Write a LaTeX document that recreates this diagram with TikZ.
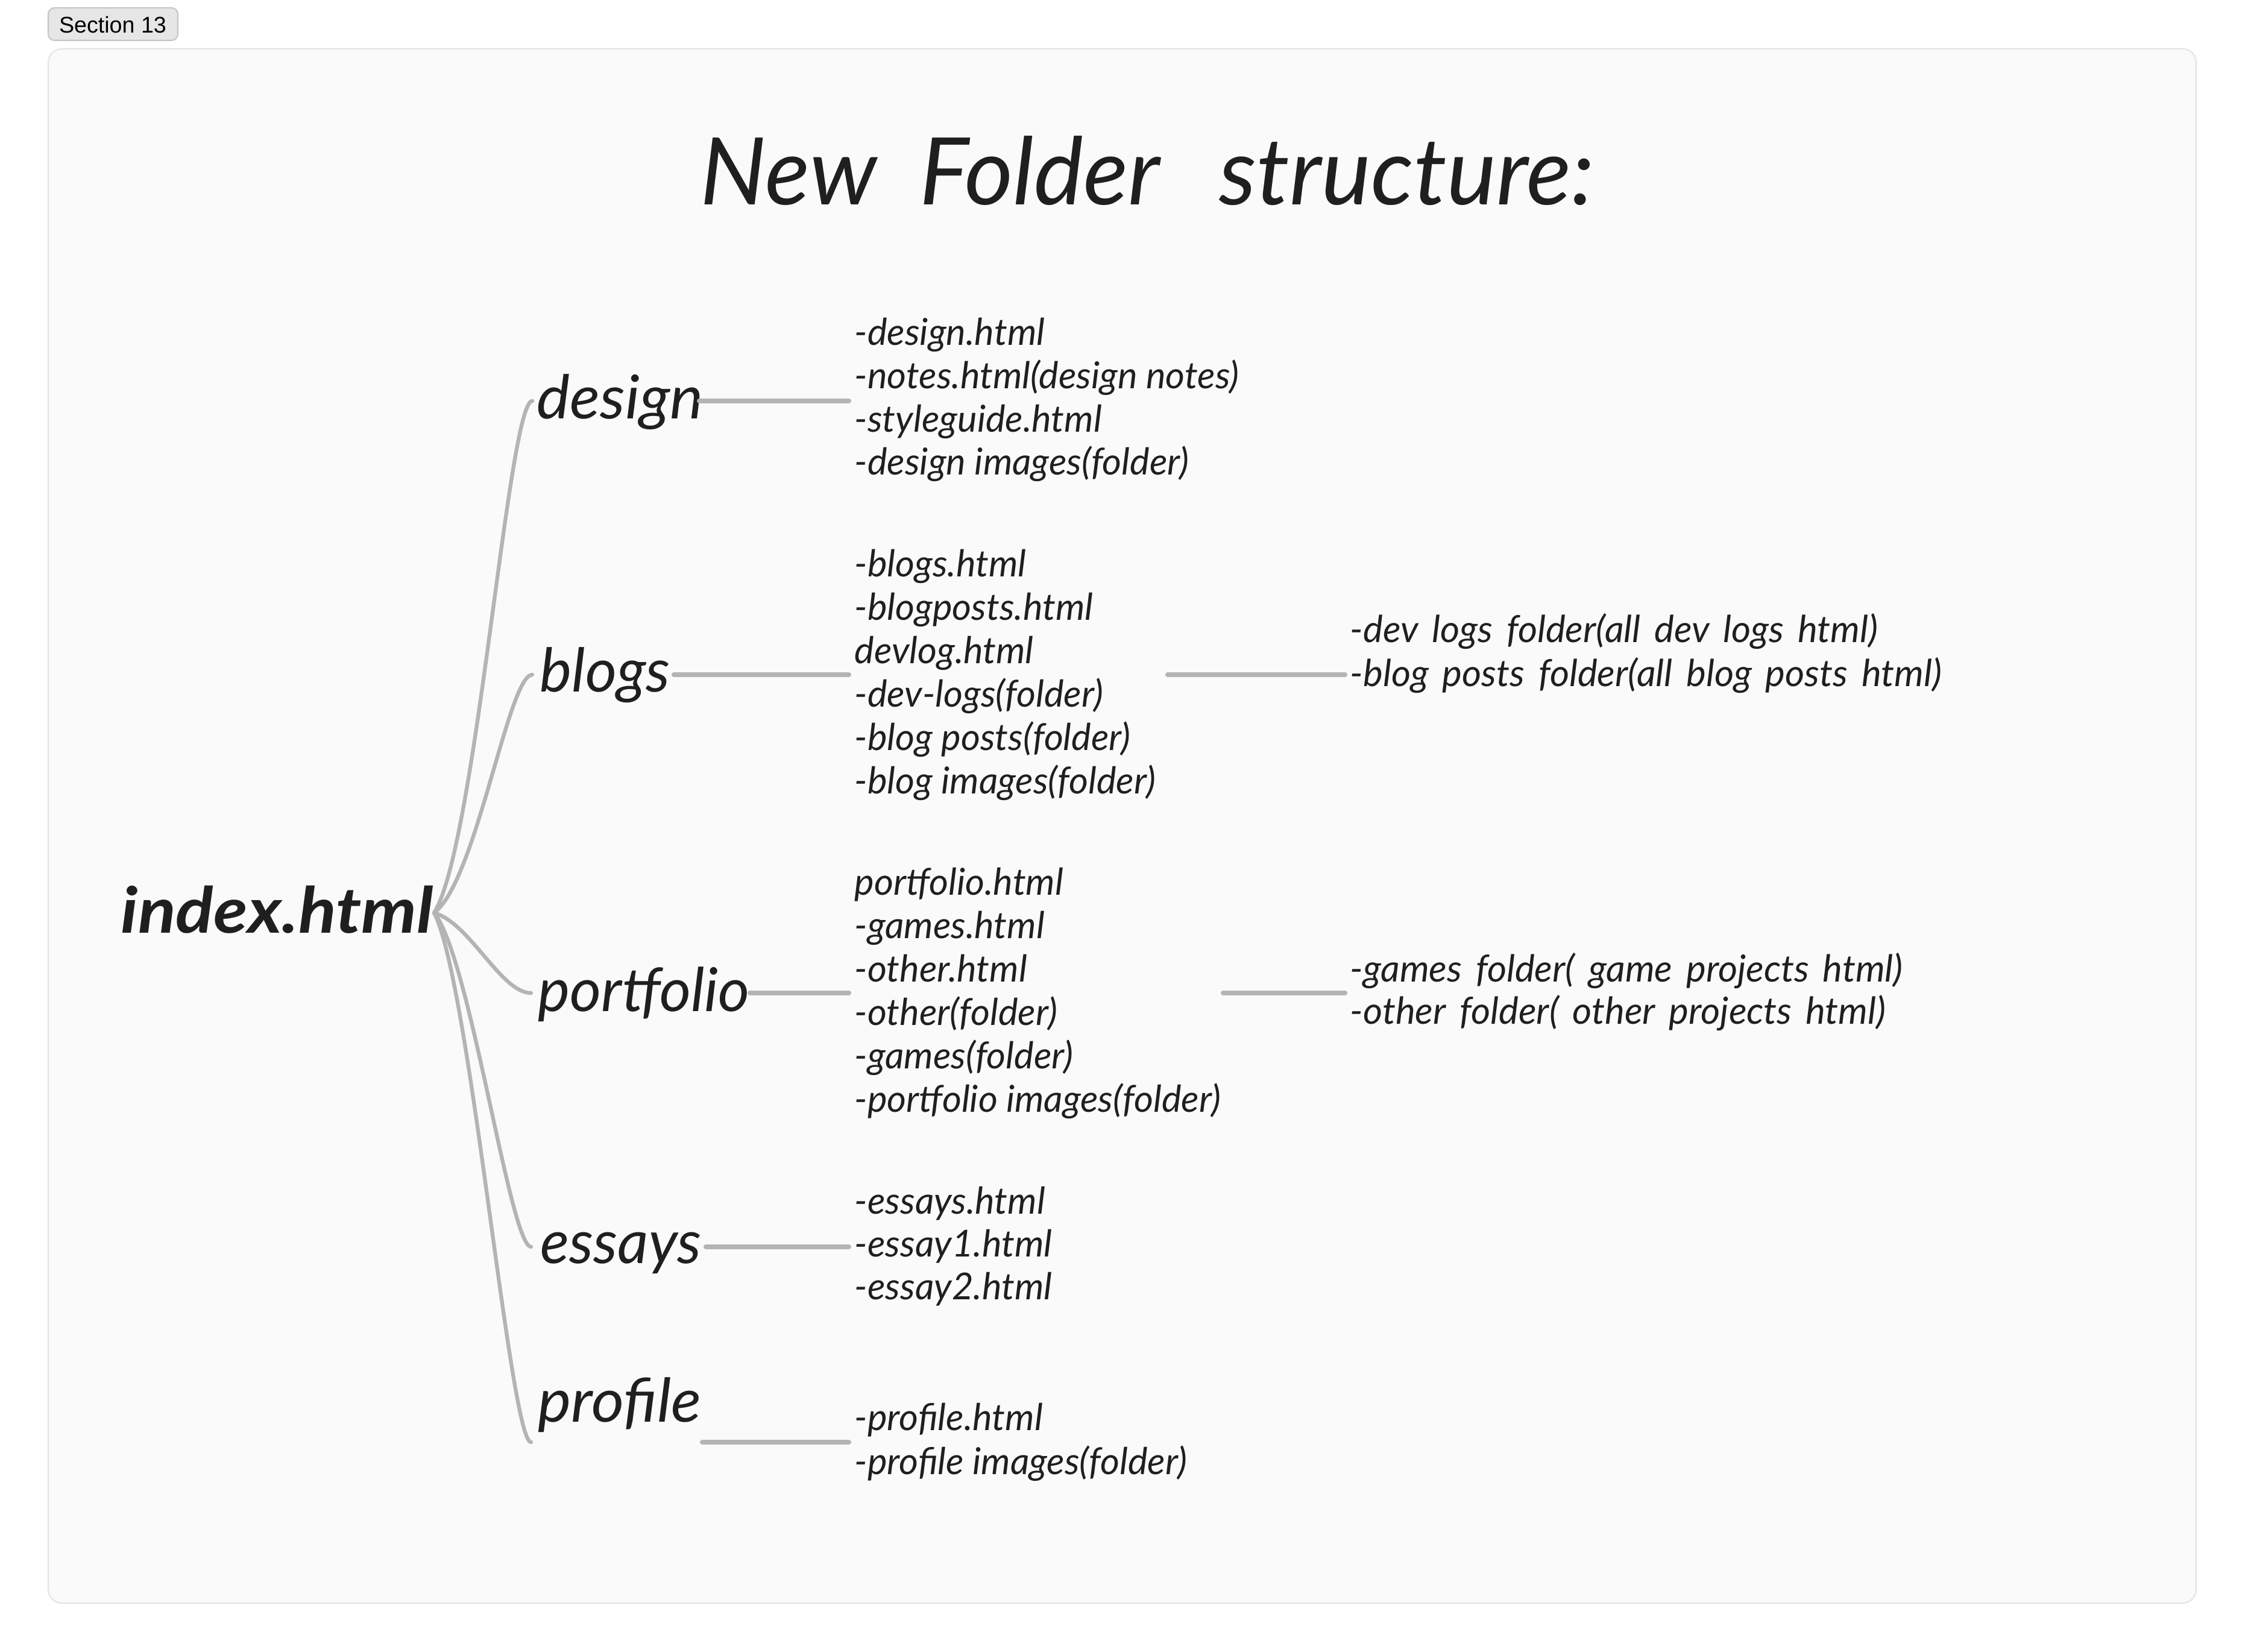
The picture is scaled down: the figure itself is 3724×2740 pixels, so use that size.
\documentclass[tikz,border=0pt]{standalone}
\usepackage{fontspec}
\setmainfont{Lato}
\setsansfont{Liberation Sans}
\newfontfamily\hand{Lato}
\newcommand\widesp{\spaceskip=0.37em plus 0.1em\relax}
\definecolor{ink}{HTML}{1F1F1F}
\definecolor{wirec}{HTML}{B4B4B4}
\definecolor{panelc}{HTML}{FAFAFA}
\definecolor{panelline}{HTML}{E4E4E4}
\definecolor{tagfill}{HTML}{E6E6E6}
\definecolor{tagline}{HTML}{C6C6C6}
\begin{document}
\begin{tikzpicture}[x=0.01cm,y=-0.01cm,
  item/.style={anchor=base west, inner sep=0pt, text=ink, font=\hand\itshape\fontsize{17.5}{20}\selectfont},
  wideitem/.style={item, font=\hand\itshape\fontsize{17.6}{20}\selectfont\widesp},
  branch/.style={anchor=base west, inner sep=0pt, text=ink, font=\hand\itshape\fontsize{28.5}{32}\selectfont},
  wire/.style={draw=wirec, line width=2.3pt, line cap=round},
  curvewire/.style={draw=wirec, line width=1.8pt, line cap=round}]
\useasboundingbox (0,0) rectangle (3724,2740);
\fill[white] (0,0) rectangle (3724,2740);
% panel
\draw[fill=panelc, draw=panelline, line width=0.6pt, rounded corners=6.5pt] (80,81) rectangle (3643,2659);
% section tag
\draw[fill=tagfill, draw=tagline, line width=0.6pt, rounded corners=3pt] (80,13) rectangle (295,67);
\node[anchor=base, inner sep=0pt, font=\sffamily\fontsize{10.7}{12}\selectfont, text=black] (tag) at (187,55) {Section 13};
% title
\node[anchor=base west, inner sep=0pt, text=ink, font=\hand\itshape\fontsize{44}{50}\selectfont] (title) at (1161,340) {New\hspace{20pt}Folder\hspace{28pt}structure:};
% root
\node[anchor=base west, inner sep=0pt, text=ink, font=\hand\bfseries\itshape\fontsize{30}{36}\selectfont] (index) at (200,1547) {\scalebox{1.1}[1]{index.html}};
\coordinate (idx) at (720,1514);
% branches
\node[branch] (design) at (890,695) {\scalebox{1.04}[1]{design}};
\node[branch] (blogs) at (895,1147) {blogs};
\node[branch] (portfolio) at (892,1677) {portfolio};
\node[branch] (essays) at (896,2095) {essays};
\node[branch] (profile) at (892,2358) {\scalebox{1.04}[1]{profile}};
% branch entry points
\coordinate (dIn) at (883,665);
\coordinate (bIn) at (883,1119);
\coordinate (pIn) at (881,1647);
\coordinate (eIn) at (881,2068);
\coordinate (fIn) at (881,2392);
% curves from root
\draw[curvewire] (idx) .. controls +(70,-110) and +(-40,0) .. (dIn);
\draw[curvewire] (idx) .. controls +(70,-51) and +(-40,0) .. (bIn);
\draw[curvewire] (idx) .. controls +(60,17) and +(-50,0) .. (pIn);
\draw[curvewire] (idx) .. controls +(60,72) and +(-35,0) .. (eIn);
\draw[curvewire] (idx) .. controls +(60,114) and +(-35,0) .. (fIn);
% branch out lines
\coordinate (dOut) at (1160,665);   \coordinate (dL) at (1408,665);
\coordinate (bOut) at (1118,1119);  \coordinate (bL) at (1408,1119);
\coordinate (pOut) at (1244,1647);  \coordinate (pL) at (1408,1647);
\coordinate (eOut) at (1171,2068);  \coordinate (eL) at (1408,2068);
\coordinate (fOut) at (1165,2392);  \coordinate (fL) at (1408,2392);
\draw[wire] (dOut) -- (dL);
\draw[wire] (bOut) -- (bL);
\draw[wire] (pOut) -- (pL);
\draw[wire] (eOut) -- (eL);
\draw[wire] (fOut) -- (fL);
% second-level lines
\coordinate (bOut2) at (1937,1119); \coordinate (bR) at (2231,1119);
\coordinate (pOut2) at (2029,1647); \coordinate (pR) at (2231,1647);
\draw[wire] (bOut2) -- (bR);
\draw[wire] (pOut2) -- (pR);
% lists
\foreach \t [count=\i from 0] in {{-design.html},{-notes.html(design notes)},{-styleguide.html},{-design images(folder)}}
  \node[item] (d\i) at (1417,573+71.5*\i) {\t};
\foreach \t [count=\i from 0] in {{-blogs.html},{-blogposts.html},{devlog.html},{-dev-logs(folder)},{-blog posts(folder)},{-blog images(folder)}}
  \node[item] (b\i) at (1417,956+72*\i) {\t};
\foreach \t [count=\i from 0] in {{portfolio.html},{-games.html},{-other.html},{-other(folder)},{-games(folder)},{-portfolio images(folder)}}
  \node[item] (p\i) at (1417,1484+72*\i) {\t};
\foreach \t [count=\i from 0] in {{-essays.html},{-essay1.html},{-essay2.html}}
  \node[item] (e\i) at (1417,2013+71*\i) {\t};
\foreach \t [count=\i from 0] in {{-profile.html},{-profile images(folder)}}
  \node[item] (f\i) at (1417,2372+73*\i) {\t};
% right lists
\node[wideitem] (r1) at (2239,1065) {-dev logs folder(all dev logs html)};
\node[wideitem] (r2) at (2239,1138) {-blog posts folder(all blog posts html)};
\node[wideitem] (r3) at (2239,1628) {-games folder( game projects html)};
\node[wideitem] (r4) at (2239,1698) {-other folder( other projects html)};
\end{tikzpicture}
\end{document}
